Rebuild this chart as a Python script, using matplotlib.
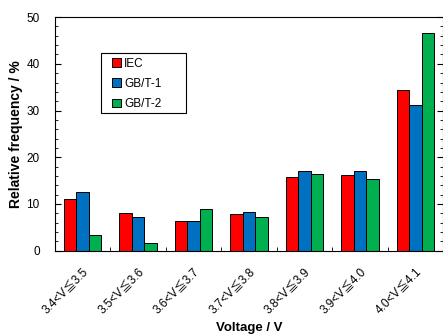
import matplotlib.pyplot as plt
import numpy as np
from matplotlib.ticker import MultipleLocator
from matplotlib.patches import Rectangle

plt.rcParams['font.family'] = ['Liberation Sans', 'Noto Sans CJK JP', 'DejaVu Sans']

categories = ['3.4<V≦3.5', '3.5<V≦3.6', '3.6<V≦3.7', '3.7<V≦3.8',
              '3.8<V≦3.9', '3.9<V≦4.0', '4.0<V≦4.1']
iec = [11.0, 8.0, 6.4, 7.8, 15.8, 16.1, 34.3]
gbt1 = [12.6, 7.3, 6.3, 8.3, 17.0, 17.0, 31.1]
gbt2 = [3.4, 1.7, 8.9, 7.3, 16.4, 15.3, 46.5]

series = [('IEC', iec, '#FF0000'), ('GB/T-1', gbt1, '#0070C0'), ('GB/T-2', gbt2, '#00B050')]

fig = plt.figure(figsize=(4.43, 3.36), dpi=100)
ax = fig.add_axes([0.124, 0.254, 0.877, 0.695])

x = np.arange(len(categories))
w = 0.225
for i, (name, vals, col) in enumerate(series):
    ax.bar(x + (i - 1) * w, vals, w, color=col, edgecolor='black', linewidth=0.7, label=name)

ax.set_xlim(-0.5, len(categories) - 0.5)
ax.set_ylim(0, 50)
ax.yaxis.set_major_locator(MultipleLocator(10))
ax.yaxis.set_minor_locator(MultipleLocator(2))
ax.tick_params(axis='y', which='both', direction='in', left=True, right=True, labelsize=8.5, pad=11)
ax.tick_params(axis='y', which='major', length=4)
ax.tick_params(axis='y', which='minor', length=2.5)

ax.set_xticks(x)
ax.set_xticklabels(categories, rotation=45, ha='right', rotation_mode='anchor', fontsize=8.5)
ax.tick_params(axis='x', which='major', length=0, pad=11)
ax.set_xticks(np.arange(len(categories) + 1) - 0.5, minor=True)
ax.tick_params(axis='x', which='minor', direction='in', length=3)

for s in ax.spines.values():
    s.set_linewidth(0.8)

ax.set_ylabel('Relative frequency / %', fontsize=10, fontweight='bold', va='center')
ax.yaxis.set_label_coords(-0.1, 0.5)
ax.set_xlabel('Voltage / V', fontsize=9.5, fontweight='bold', va='center')
ax.xaxis.set_label_coords(0.5, -0.33)

# legend box drawn like the spreadsheet one, wider than its text
ax.add_patch(Rectangle((0.1186, 0.590), 0.219, 0.257, transform=ax.transAxes,
                       facecolor='white', edgecolor='black', linewidth=0.8, zorder=4))
leg = ax.legend(loc='upper left', bbox_to_anchor=(0.148, 0.827), fontsize=8.5,
                frameon=False, handlelength=0.75, handleheight=0.75,
                handletextpad=0.25, borderpad=0, borderaxespad=0, labelspacing=0.7)
leg.set_zorder(5)

fig.savefig('out.png', dpi=100)
